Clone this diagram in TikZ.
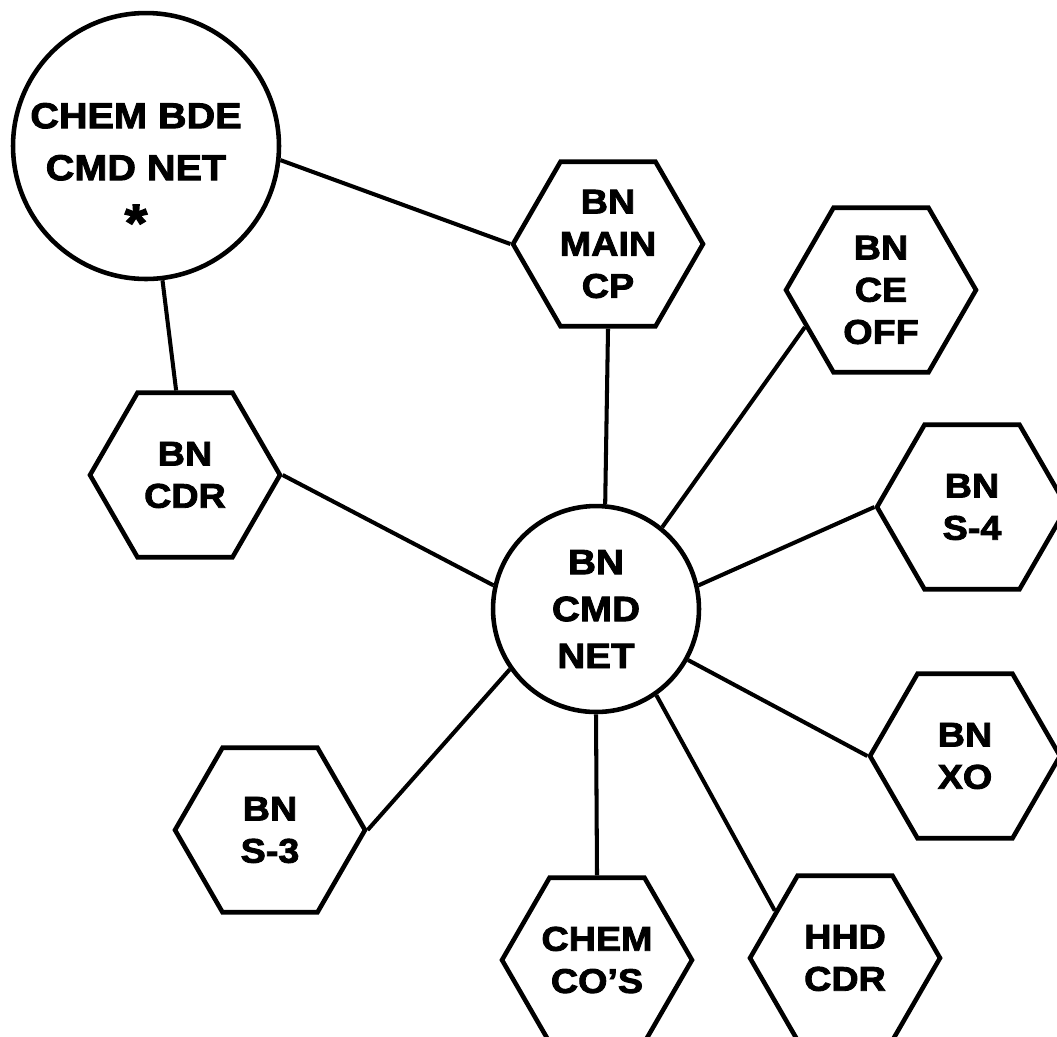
\documentclass[tikz,border=0pt]{standalone}
\usepackage{fontspec}
\setmainfont{Liberation Sans}[FakeStretch=1.1, BoldFeatures={FakeBold=2.5}]
\usetikzlibrary{shapes.geometric, positioning}
\tikzset{
    station/.style={
        regular polygon,
        regular polygon sides=6,
        draw=black,
        line width=2.6pt,
        minimum size=3.8cm,
        inner sep=0pt,
        align=center,
        font=\fontsize{19.5}{24}\selectfont\bfseries
    },
    net/.style={
        circle,
        draw=black,
        line width=2.6pt,
        minimum size=4.12cm,
        inner sep=0pt,
        align=center,
        font=\fontsize{20}{26.7}\selectfont\bfseries
    },
    netname/.style={
        align=center,
        inner sep=0pt,
        font=\fontsize{20.5}{29.6}\selectfont\bfseries
    },
    link/.style={
        draw=black,
        line width=2.3pt
    }
}

\begin{document}
\begin{tikzpicture}[x=0.02cm, y=-0.02cm]
\useasboundingbox (0,0) rectangle (1057,1036);
\clip (0,0) rectangle (1057,1036);

% Nets
\node[net] (bnnet) at (596,609) {BN\\CMD\\NET};
\node[net, minimum size=5.32cm, label={[netname, xshift=-0.2cm, yshift=-0.52cm]center:{CHEM BDE\\CMD NET\\{\fontsize{30}{29.6}\selectfont\raisebox{-5pt}{*}}}}] (bdenet) at (146,146) {};

% Stations
\node[station] (maincp) at (608,244) {BN\\MAIN\\CP};
\node[station] (ceoff) at (881,290) {BN\\CE\\OFF};
\node[station] (cdr) at (185,475) {BN\\CDR};
\node[station] (sfour) at (972,507) {BN\\S-4};
\node[station] (xo) at (965,756) {BN\\XO};
\node[station] (sthree) at (270,830) {BN\\S-3};
\node[station] (chemcos) at (597,960) {CHEM\\CO'S};
\node[station] (hhdcdr) at (845,958) {HHD\\CDR};

% Links
\draw[link] (bdenet.-6) -- (maincp.west);
\draw[link] (bdenet.-83) -- (cdr.96);
\draw[link] (bnnet.85) -- (maincp.south);
\draw[link] (bnnet.51) -- (ceoff.206);
\draw[link] (bnnet.13) -- (sfour.west);
\draw[link] (bnnet.-29) -- (xo.west);
\draw[link] (bnnet.-55) -- (hhdcdr.146);
\draw[link] (bnnet.south) -- (chemcos.north);
\draw[link] (bnnet.215) -- (sthree.east);
\draw[link] (bnnet.167) -- (cdr.east);

\end{tikzpicture}
\end{document}
